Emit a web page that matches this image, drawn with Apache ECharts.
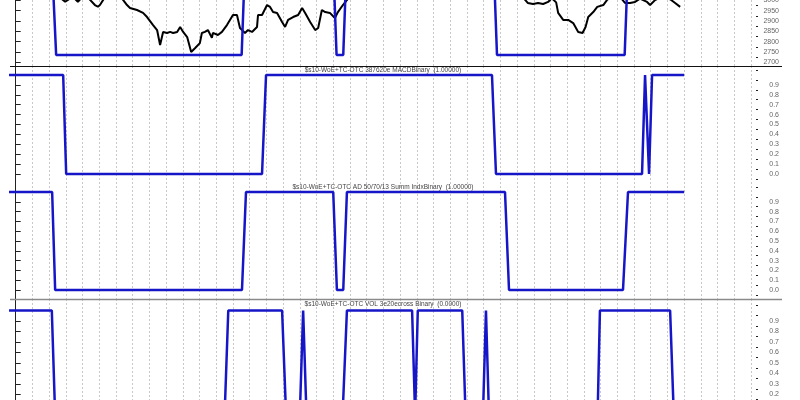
<!DOCTYPE html>
<html>
<head>
<meta charset="utf-8">
<script src="https://cdn.jsdelivr.net/npm/echarts@6/dist/echarts.min.js"></script>
<style>html,body{margin:0;padding:0;background:#fff}#c{width:800px;height:400px}</style>
</head>
<body>
<div id="c"></div>
<script>
// ---- data (x = bar index, grid lines every 5 bars) ----
const priceBars = [-2, 4, 10, 13.5, 14.8, 16.2, 17.4, 18.6, 19.6, 21.5, 23.7, 24.6, 25.2, 26.3, 29, 31.5,
  33.3, 34.2, 36.3, 38.1, 39.3, 41.1, 42.3, 43.2, 44.1, 45.3, 46.2, 47.1, 48.3, 49.2, 50.1, 51.3,
  52.5, 53.7, 55.1, 55.7, 56.6, 57.5, 58.7, 59.0, 60.5, 61.7, 63.2, 65.0, 66.2, 67.1, 68.6, 69.5,
  70.7, 72.2, 72.5, 73.7, 75.2, 76.1, 77.0, 78.2, 79.7, 80.6, 81.5, 83.0, 84.5, 85.7, 86.6, 88.1,
  89.6, 90.5, 91.6, 92.6, 94.0, 95.5, 96.4, 97.9, 99.3, 103, 110, 118, 126, 134, 142, 148, 152,
  153.2, 154.8, 156.3, 157.8, 159.3, 160.4, 161.7, 162.3, 163.8, 165.3, 166.8, 168.3, 169.6, 170.5,
  171.3, 172.8, 174.0, 175.8, 176.9, 178, 180, 181.4, 182.3, 183.8, 185.3, 186.8, 188.9, 189.8,
  191.3, 193, 195.8, 197.3, 198.8];
const priceVals = [3050, 3080, 3040, 3010, 2993, 3008, 3012, 2993, 3010, 3015, 2977, 2969, 2977, 3005, 3030, 3015,
  2977, 2963, 2953, 2939, 2919, 2880, 2856, 2784, 2847, 2842, 2847, 2842, 2847, 2871, 2847, 2822,
  2750, 2769, 2793, 2842, 2847, 2856, 2818, 2842, 2832, 2847, 2880, 2929, 2929, 2866, 2842, 2856,
  2847, 2871, 2929, 2929, 2977, 2968, 2943, 2939, 2895, 2871, 2905, 2919, 2929, 2963, 2939, 2895,
  2856, 2866, 2953, 2943, 2939, 2914, 2943, 2977, 3005, 3040, 3070, 3090, 3060, 3080, 3050, 3030, 3010,
  2987, 2982, 2987, 2982, 2992, 3010, 2990, 2939, 2905, 2905, 2890, 2847, 2842, 2871,
  2919, 2943, 2968, 2977, 3001, 3015, 3020, 3005, 2987, 2987, 2992, 3008, 2992, 2977,
  3001, 3015, 3005, 2987, 2968];

const signalBars = [-2, 11.1, 12.1, 67.6, 68.4, 95.2, 96, 98, 98.8, 143.2, 144, 182.2, 183, 200];
const signalVals = [1, 1, 0, 0, 1, 1, 0, 0, 1, 1, 0, 0, 1, 1];

const macdBars = [-2, 14.2, 15.1, 73.7, 74.9, 142.5, 143.7, 187.4, 188.3, 189.5, 190.4, 200];
const macdVals = [1, 1, 0, 0, 1, 1, 0, 0, 1, 0, 1, 1];

const adBars = [-2, 10.9, 11.8, 67.7, 68.9, 95, 96.1, 98, 99.1, 146.4, 147.6, 181.7, 183.2, 200];
const adVals = [1, 1, 0, 0, 1, 1, 0, 0, 1, 1, 0, 0, 1, 1];

const volBars = [-2, 10.8, 11.8, 62.5, 63.6, 79.7, 80.9, 85, 86, 87, 97.8, 99.1, 118.6, 119.5, 120.3,
  133.6, 134.6, 139.8, 140.7, 141.6, 174.1, 174.8, 195.8, 196.9, 200];
const volVals = [1, 1, 0, 0, 1, 1, 0, 0, 1, 0, 0, 1, 1, 0, 1,
  1, 0, 0, 1, 0, 0, 1, 1, 0, 0];

const priceLabels = [2700, 2750, 2800, 2850, 2900, 2950, 3000];
const priceMinor = [2675, 2725, 2775, 2825, 2875, 2925, 2975];
const binaryLabels = [0, 0.1, 0.2, 0.3, 0.4, 0.5, 0.6, 0.7, 0.8, 0.9];
const binaryMajor = [0, 0.1, 0.2, 0.3, 0.4, 0.5, 0.6, 0.7, 0.8, 0.9, 1.0];
const binaryMinor = [-0.05, 0.05, 0.15, 0.25, 0.35, 0.45, 0.55, 0.65, 0.75, 0.85, 0.95, 1.05];

const panelTitles = [
  '$s10-WoE+TC-OTC 387620e MACDBinary  (1.00000)',
  '$s10-WoE+TC-OTC AD 50/70/13 Summ IndxBinary  (1.00000)',
  '$s10-WoE+TC-OTC VOL 3e20ecross Binary  (0.0000)'
];

// ---- chart ----
const zip = (xs, ys) => xs.map((x, i) => [x, ys[i]]);
const FONT = '"Liberation Sans", Arial, sans-serif';
const BLUE = '#1616c8';

const grids = [
  { left: -1, width: 752, top: 0, height: 66 },
  { left: -1, width: 752, top: 66, height: 116 },
  { left: -1, width: 752, top: 182, height: 117 },
  { left: -1, width: 752, top: 299, height: 125 }
].map(g => Object.assign(g, { containLabel: false, outerBoundsMode: 'none' }));

const xAxes = grids.map((g, i) => ({
  type: 'value', gridIndex: i, min: -5, max: 220, interval: 5,
  axisLine: { show: false }, axisTick: { show: false }, axisLabel: { show: false },
  splitLine: { show: true, lineStyle: { color: '#c8c8c8', type: [2, 2], width: 1 } }
}));

function majorAxis(gi, min, max, labels, ticks, fmt) {
  return {
    type: 'value', gridIndex: gi, position: 'right', offset: 5, min, max,
    axisLine: { show: true, lineStyle: { color: '#222', width: 1 } },
    axisTick: { show: true, inside: false, length: 5, customValues: ticks, lineStyle: { color: '#222' } },
    axisLabel: { show: true, customValues: labels, formatter: fmt, align: 'right', margin: 23,
      fontSize: 7, color: '#666', fontFamily: FONT },
    splitLine: { show: false }
  };
}
function minorAxis(gi, min, max, ticks) {
  return {
    type: 'value', gridIndex: gi, position: 'right', offset: 5, min, max,
    axisLine: { show: false },
    axisTick: { show: true, inside: false, length: 2, customValues: ticks, lineStyle: { color: '#222' } },
    axisLabel: { show: false }, splitLine: { show: false }
  };
}
const binFmt = v => v.toFixed(1);
const yAxes = [
  majorAxis(0, 2682.1, 3001.4, priceLabels, priceLabels, v => String(v)),
  minorAxis(0, 2682.1, 3001.4, priceMinor),
  { type: 'value', gridIndex: 0, show: false, min: -0.15, max: 0.75 },
  majorAxis(1, -0.0808, 1.0909, binaryLabels, binaryMajor, binFmt),
  minorAxis(1, -0.0808, 1.0909, binaryMinor),
  majorAxis(2, -0.0918, 1.102, binaryLabels, binaryMajor, binFmt),
  minorAxis(2, -0.0918, 1.102, binaryMinor),
  majorAxis(3, -0.083, 1.1097, binaryLabels, binaryMajor, binFmt),
  minorAxis(3, -0.083, 1.1097, binaryMinor)
];

function lineSeries(data, xi, yi, color, width) {
  return { type: 'line', xAxisIndex: xi, yAxisIndex: yi, data, symbol: 'none', clip: true,
    lineStyle: { color, width }, emphasis: { disabled: true }, silent: true };
}

const series = [
  lineSeries(zip(priceBars, priceVals), 0, 0, '#000', 2),
  lineSeries(zip(signalBars, signalVals), 0, 2, BLUE, 2.5),
  lineSeries(zip(macdBars, macdVals), 1, 3, BLUE, 2.5),
  lineSeries(zip(adBars, adVals), 2, 5, BLUE, 2.5),
  lineSeries(zip(volBars, volVals), 3, 7, BLUE, 2.5)
];

const titleY = [70.5, 187, 304];
const graphic = [
  { type: 'line', shape: { x1: 10, y1: 66.5, x2: 782, y2: 66.5 }, style: { stroke: '#111', lineWidth: 1 }, z: 10 },
  { type: 'line', shape: { x1: 10, y1: 299.5, x2: 782, y2: 299.5 }, style: { stroke: '#8a8a8a', lineWidth: 1.5 }, z: 10 }
].concat(panelTitles.map((t, i) => ({
  type: 'text', x: 383, y: titleY[i], z: 10,
  style: { text: t, textAlign: 'center', textVerticalAlign: 'middle', fill: '#444',
    font: '6.5px ' + FONT }
})));

const chart = echarts.init(document.getElementById('c'), null, { renderer: 'canvas' });
chart.setOption({
  animation: false,
  backgroundColor: '#fff',
  grid: grids,
  xAxis: xAxes,
  yAxis: yAxes,
  series,
  graphic
});
</script>
</body>
</html>
